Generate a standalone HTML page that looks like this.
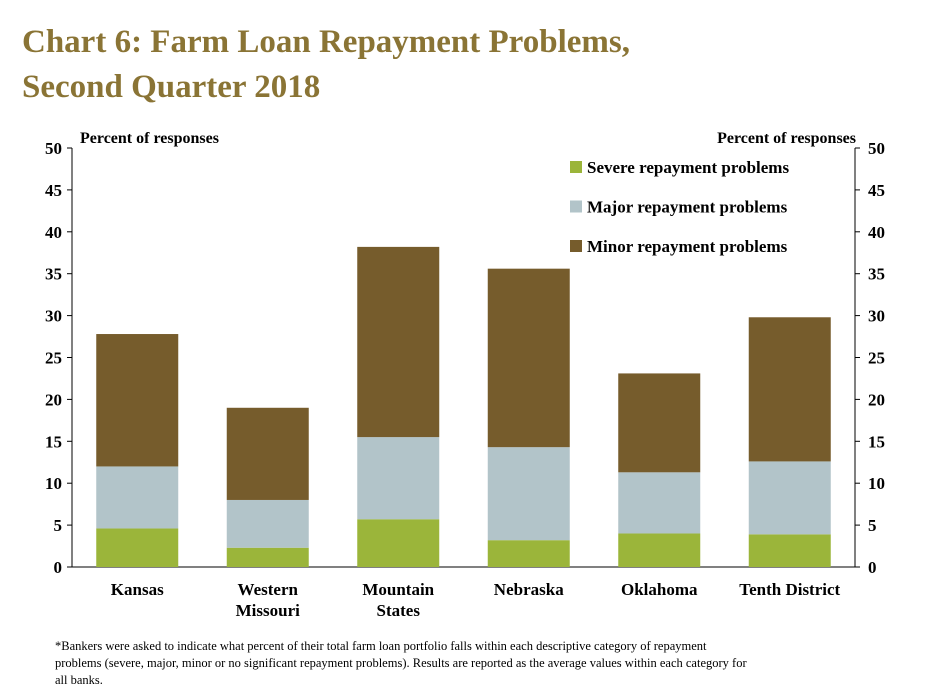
<!DOCTYPE html>
<html><head><meta charset="utf-8"><style>
body{margin:0;background:#fff;}
svg{display:block;font-family:"Liberation Serif",serif;}
</style></head><body>
<svg id="chart" width="925" height="696" viewBox="0 0 925 696">
<text x="22" y="52" font-size="33" font-weight="bold" fill="#8a7435">Chart 6: Farm Loan Repayment Problems,</text>
<text x="22" y="97" font-size="33" font-weight="bold" fill="#8a7435">Second Quarter 2018</text>
<text x="80" y="143" font-size="16" font-weight="bold">Percent of responses</text>
<text x="856" y="143" font-size="16" font-weight="bold" text-anchor="end">Percent of responses</text>
<g id="axes"></g>
<g id="bars"></g>
<g id="legend"></g>
<text font-size="12.5">
<tspan x="55" y="650">*Bankers were asked to indicate what percent of their total farm loan portfolio falls within each descriptive category of repayment</tspan>
<tspan x="55" y="667">problems (severe, major, minor or no significant repayment problems). Results are reported as the average values within each category for</tspan>
<tspan x="55" y="684">all banks.</tspan>
</text>
</svg>
<script>
const categories=[["Kansas"],["Western","Missouri"],["Mountain","States"],["Nebraska"],["Oklahoma"],["Tenth District"]];
const severe=[4.6,2.3,5.7,3.2,4.0,3.9];
const major=[7.4,5.7,9.8,11.1,7.3,8.7];
const minor=[15.8,11.0,22.7,21.3,11.8,17.2];
const seriesNames=["Severe repayment problems","Major repayment problems","Minor repayment problems"];
const yTicks=[0,5,10,15,20,25,30,35,40,45,50];

const NS="http://www.w3.org/2000/svg";
const X0=72,X1=855,Y0=567,Y1=148,YMAX=50;
const y=v=>Y0-(v/YMAX)*(Y0-Y1);
const band=(X1-X0)/categories.length;
const xc=i=>X0+band*(i+0.5);
const BW=82;
const colors=["#9bb53a","#b2c4c9","#765c2c"];
function mk(tag,attrs,parent){const e=document.createElementNS(NS,tag);for(const k in attrs)e.setAttribute(k,attrs[k]);parent.appendChild(e);return e;}
const axes=document.getElementById("axes"),bars=document.getElementById("bars"),legend=document.getElementById("legend");
let l=mk("line",{x1:X0,y1:Y1,x2:X0,y2:Y0,stroke:"#000"},axes);


l=mk("line",{x1:X1,y1:Y1,x2:X1,y2:Y0,stroke:"#000"},axes);


l=mk("line",{x1:X0,y1:Y0,x2:X1,y2:Y0,stroke:"#000"},axes);


yTicks.forEach(t=>{
 mk("line",{x1:X0-5,y1:y(t),x2:X0,y2:y(t),stroke:"#000"},axes);
 mk("line",{x1:X1,y1:y(t),x2:X1+5,y2:y(t),stroke:"#000"},axes);
 let a=mk("text",{x:X0-10,y:y(t)+6,"font-size":17,"font-weight":"bold","text-anchor":"end"},axes);a.textContent=t;
 
 
 let b=mk("text",{x:X1+13,y:y(t)+6,"font-size":17,"font-weight":"bold"},axes);b.textContent=t;
 
 
});
categories.forEach((c,i)=>{
 const vals=[severe[i],major[i],minor[i]];let base=0;
 vals.forEach((v,s)=>{
  const r=mk("rect",{x:xc(i)-BW/2,y:y(base+v),width:BW,height:y(base)-y(base+v),fill:colors[s]},bars);
  
  
  base+=v;
 });
 c.forEach((line,k)=>{
  const t=mk("text",{x:xc(i),y:595+k*21,"font-size":17,"font-weight":"bold","text-anchor":"middle"},axes);t.textContent=line;
  
  
 });
});
seriesNames.forEach((n,s)=>{
 const yy=168+s*39.5;
 const r=mk("rect",{x:570,y:yy-7,width:12,height:12,fill:colors[s]},legend);
 
 
 const t=mk("text",{x:587,y:yy+5,"font-size":17,"font-weight":"bold"},legend);t.textContent=n;
 
 
});
</script>
</body></html>
